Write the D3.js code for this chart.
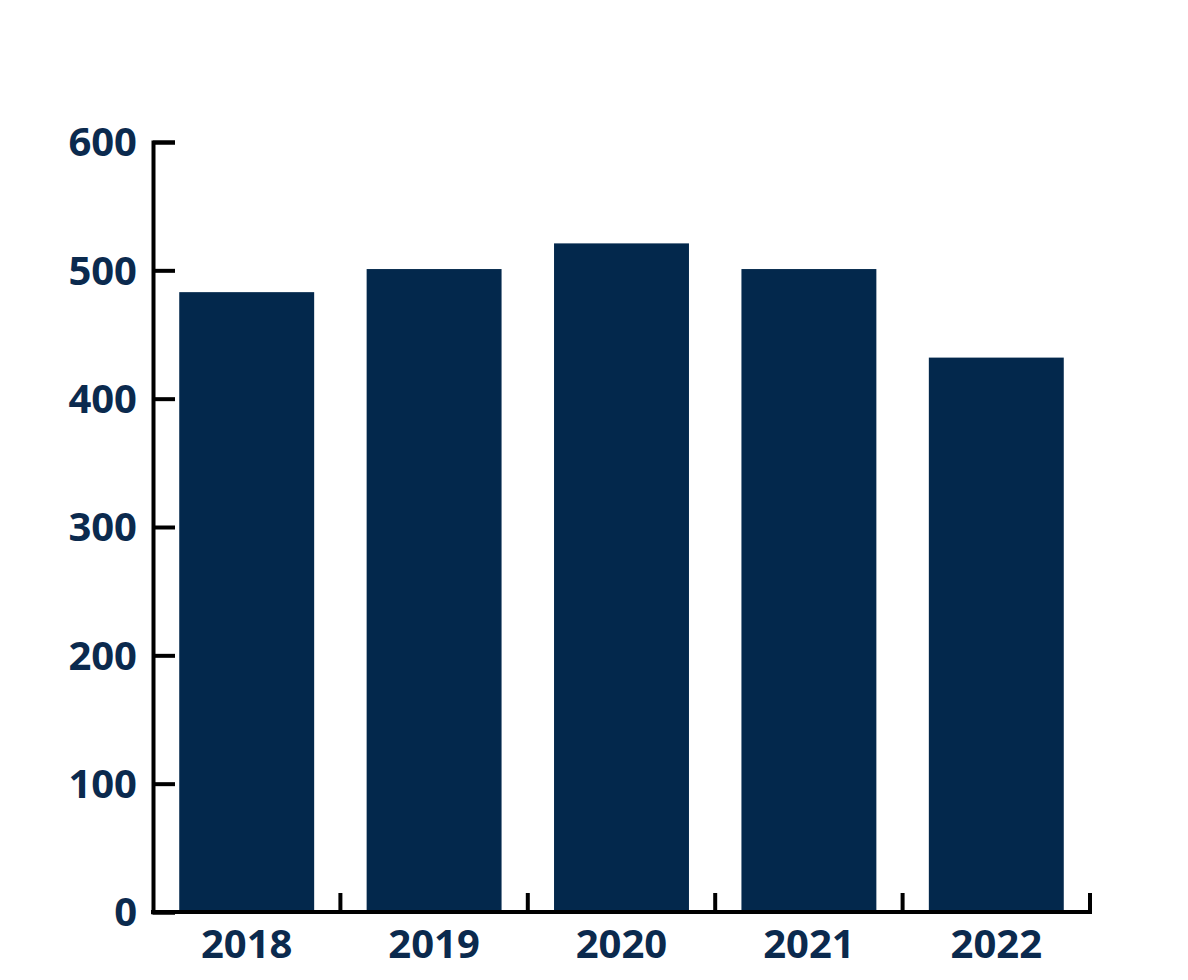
<!DOCTYPE html>
<html>
<head>
<meta charset="utf-8">
<script src="https://cdn.jsdelivr.net/npm/d3@7"></script>
<style>
  body { margin: 0; background: #fff; }
  text { font-family: "Open Sans", sans-serif; font-weight: 700; fill: #0b2a4e; }
</style>
</head>
<body>
<div id="chart"></div>
<script>
var years = ["2018", "2019", "2020", "2021", "2022"];
var values = [483, 501, 521, 501, 432];
var yTicks = [0, 100, 200, 300, 400, 500, 600];

var margin = {top: 142, right: 98, bottom: 68, left: 153},
    width = 1188 - margin.left - margin.right,
    height = 980 - margin.top - margin.bottom;

var svg = d3.select("#chart")
  .append("svg")
    .attr("width", 1188)
    .attr("height", 980)
  .append("g")
    .attr("transform", "translate(" + margin.left + "," + margin.top + ")");

var x = d3.scaleBand()
  .domain(years)
  .range([0, width])
  .paddingInner(0.28)
  .paddingOuter(0.14);

var y = d3.scaleLinear()
  .domain([0, 600])
  .range([height, 0]);

// bars
svg.selectAll("rect.bar")
  .data(years)
  .enter()
  .append("rect")
    .attr("class", "bar")
    .attr("x", function(d) { return x(d); })
    .attr("y", function(d, i) { return y(values[i]); })
    .attr("width", x.bandwidth())
    .attr("height", function(d, i) { return height - y(values[i]); })
    .attr("fill", "#03284c");

// y axis, ticks pointing inward
var yAxis = svg.append("g")
  .call(d3.axisRight(y).tickValues(yTicks).tickSize(22).tickFormat(""));
yAxis.select(".domain").attr("stroke", "#000").attr("stroke-width", 4);
yAxis.selectAll(".tick line").attr("stroke", "#000").attr("stroke-width", 4);

svg.selectAll("text.ylab")
  .data(yTicks)
  .enter()
  .append("text")
    .attr("class", "ylab")
    .attr("x", -16)
    .attr("y", function(d) { return y(d); })
    .attr("dy", "0.36em")
    .attr("text-anchor", "end")
    .style("font-size", "40px")
    .text(function(d) { return d; });

// x axis, ticks at band boundaries pointing up
var step = x.step();
var bounds = d3.range(1, years.length + 1).map(function(i) { return i * width / years.length; });
svg.append("line")
  .attr("x1", -2).attr("x2", width + 2)
  .attr("y1", height).attr("y2", height)
  .attr("stroke", "#000").attr("stroke-width", 4);
svg.selectAll("line.xtick")
  .data(bounds)
  .enter()
  .append("line")
    .attr("class", "xtick")
    .attr("x1", function(d) { return d; })
    .attr("x2", function(d) { return d; })
    .attr("y1", height + 2)
    .attr("y2", height - 19)
    .attr("stroke", "#000").attr("stroke-width", 4);

svg.selectAll("text.xlab")
  .data(years)
  .enter()
  .append("text")
    .attr("class", "xlab")
    .attr("x", function(d) { return x(d) + x.bandwidth() / 2; })
    .attr("y", height + 46)
    .attr("text-anchor", "middle")
    .style("font-size", "40px")
    .text(function(d) { return d; });
</script>
</body>
</html>
